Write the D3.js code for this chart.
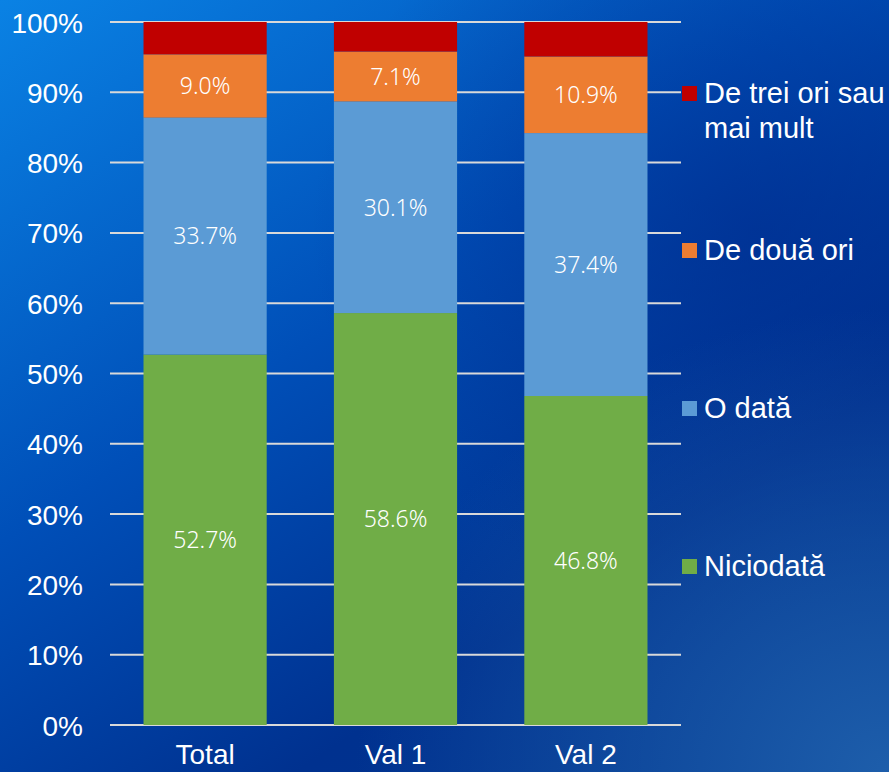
<!DOCTYPE html>
<html>
<head>
<meta charset="utf-8">
<script src="https://cdn.jsdelivr.net/npm/d3@7"></script>
<style>
  html, body { margin: 0; padding: 0; overflow: hidden; }
  svg { display: block; }
</style>
</head>
<body>
<div id="chart"></div>
<script>
// data
const categories = ["Total", "Val 1", "Val 2"];
const seriesNames = ["Niciodată", "O dată", "De două ori", "De trei ori sau mai mult"];
const niciodata = [52.7, 58.6, 46.8];
const oData = [33.7, 30.1, 37.4];
const deDouaOri = [9.0, 7.1, 10.9];
const deTreiOri = [4.6, 4.2, 4.9];
const showLabel = [true, true, true, false];
const yTicks = [0, 10, 20, 30, 40, 50, 60, 70, 80, 90, 100];

const colors = ["#70ad47", "#5b9bd5", "#ed7d31", "#c00000"];
const legendLines = [["Niciodată"], ["O dată"], ["De două ori"], ["De trei ori sau", "mai mult"]];

const W = 889, H = 772;
const svg = d3.select("#chart").append("svg")
    .attr("width", W)
    .attr("height", H);

// background
const defs = svg.append("defs");
const lg = defs.append("linearGradient")
    .attr("id", "bg")
    .attr("x1", "0").attr("y1", "0")
    .attr("x2", "0.75").attr("y2", "1");
lg.append("stop").attr("offset", "0").attr("stop-color", "#0a82e4");
lg.append("stop").attr("offset", "0.45").attr("stop-color", "#004fb8");
lg.append("stop").attr("offset", "0.8").attr("stop-color", "#00318f");
lg.append("stop").attr("offset", "1").attr("stop-color", "#00348f");

const rg = defs.append("radialGradient")
    .attr("id", "glow")
    .attr("cx", "1").attr("cy", "1").attr("r", "0.6");
rg.append("stop").attr("offset", "0").attr("stop-color", "#1f60ac").attr("stop-opacity", 0.95);
rg.append("stop").attr("offset", "1").attr("stop-color", "#1f60ac").attr("stop-opacity", 0);

const rg2 = defs.append("radialGradient")
    .attr("id", "dark")
    .attr("cx", "0.85").attr("cy", "0.3").attr("r", "0.5");
rg2.append("stop").attr("offset", "0").attr("stop-color", "#002a8c").attr("stop-opacity", 0.6);
rg2.append("stop").attr("offset", "1").attr("stop-color", "#002a8c").attr("stop-opacity", 0);

svg.append("rect").attr("width", W).attr("height", H).attr("fill", "url(#bg)");
svg.append("rect").attr("width", W).attr("height", H).attr("fill", "url(#dark)");
svg.append("rect").attr("width", W).attr("height", H).attr("fill", "url(#glow)");

const margin = { left: 110, right: 208, top: 22, bottom: 47 };
const x = d3.scaleBand()
    .domain(categories)
    .range([margin.left, W - margin.right])
    .paddingInner(0.353)
    .paddingOuter(0.176);
const y = d3.scaleLinear()
    .domain([0, 100])
    .range([H - margin.bottom, margin.top]);

// gridlines
svg.append("g")
    .selectAll("line")
    .data(yTicks)
    .join("line")
    .attr("x1", margin.left)
    .attr("x2", W - margin.right)
    .attr("y1", d => y(d))
    .attr("y2", d => y(d))
    .attr("stroke", "#d9d9d9")
    .attr("stroke-width", 2);

// y axis labels
const yAxis = d3.axisLeft(y).tickValues(yTicks).tickSize(0).tickPadding(27).tickFormat(d => d + "%");
svg.append("g")
    .attr("transform", "translate(" + margin.left + ",0)")
    .call(yAxis)
    .call(g => g.select(".domain").remove())
    .selectAll("text")
    .attr("fill", "#fff")
    .attr("font-family", "Liberation Sans, Arial, sans-serif")
    .attr("font-size", 28)
    .attr("dy", "0.36em");

// x axis labels (kept just inside the bottom edge)
const xAxis = d3.axisBottom(x).tickSize(0).tickPadding(19);
svg.append("g")
    .attr("transform", "translate(0," + y(0) + ")")
    .call(xAxis)
    .call(g => g.select(".domain").remove())
    .selectAll("text")
    .attr("fill", "#fff")
    .attr("font-family", "Liberation Sans, Arial, sans-serif")
    .attr("font-size", 28);

// stack
const rows = categories.map((c, i) => ({
    cat: c,
    "Niciodată": niciodata[i],
    "O dată": oData[i],
    "De două ori": deDouaOri[i],
    "De trei ori sau mai mult": deTreiOri[i]
}));
const stack = d3.stack().keys(seriesNames)(rows);

const layers = svg.append("g")
    .selectAll("g")
    .data(stack)
    .join("g")
    .attr("fill", (d, i) => colors[i]);

layers.selectAll("rect")
    .data(d => d)
    .join("rect")
    .attr("x", d => x(d.data.cat))
    .attr("width", x.bandwidth())
    .attr("y", d => y(d[1]))
    .attr("height", d => y(d[0]) - y(d[1]));

// value labels
layers.filter((d, i) => showLabel[i])
    .selectAll("text")
    .data(d => d.map(v => ({ v: v, key: d.key })))
    .join("text")
    .attr("x", d => x(d.v.data.cat) + x.bandwidth() / 2)
    .attr("y", d => y((d.v[0] + d.v[1]) / 2))
    .attr("dy", "0.36em")
    .attr("text-anchor", "middle")
    .attr("fill", "#fff")
    .attr("font-family", "Noto Sans, Open Sans, sans-serif")
    .attr("font-weight", 300)
    .attr("font-size", 23)
    .text(d => d.v.data[d.key].toFixed(1) + "%");

// legend
const legendY = [566, 408, 250, 93];
const legend = svg.append("g")
    .selectAll("g")
    .data(seriesNames)
    .join("g")
    .attr("transform", (d, i) => "translate(682," + legendY[i] + ")");

legend.append("rect")
    .attr("x", 0)
    .attr("y", -7)
    .attr("width", 15)
    .attr("height", 15)
    .attr("fill", (d, i) => colors[i]);

legend.append("text")
    .attr("x", 22)
    .attr("fill", "#fff")
    .attr("font-family", "Liberation Sans, Arial, sans-serif")
    .attr("font-size", 29)
    .selectAll("tspan")
    .data((d, i) => legendLines[i])
    .join("tspan")
    .attr("x", 22)
    .attr("dy", (d, j) => j === 0 ? "0.36em" : "1.18em")
    .text(d => d);
</script>
</body>
</html>
